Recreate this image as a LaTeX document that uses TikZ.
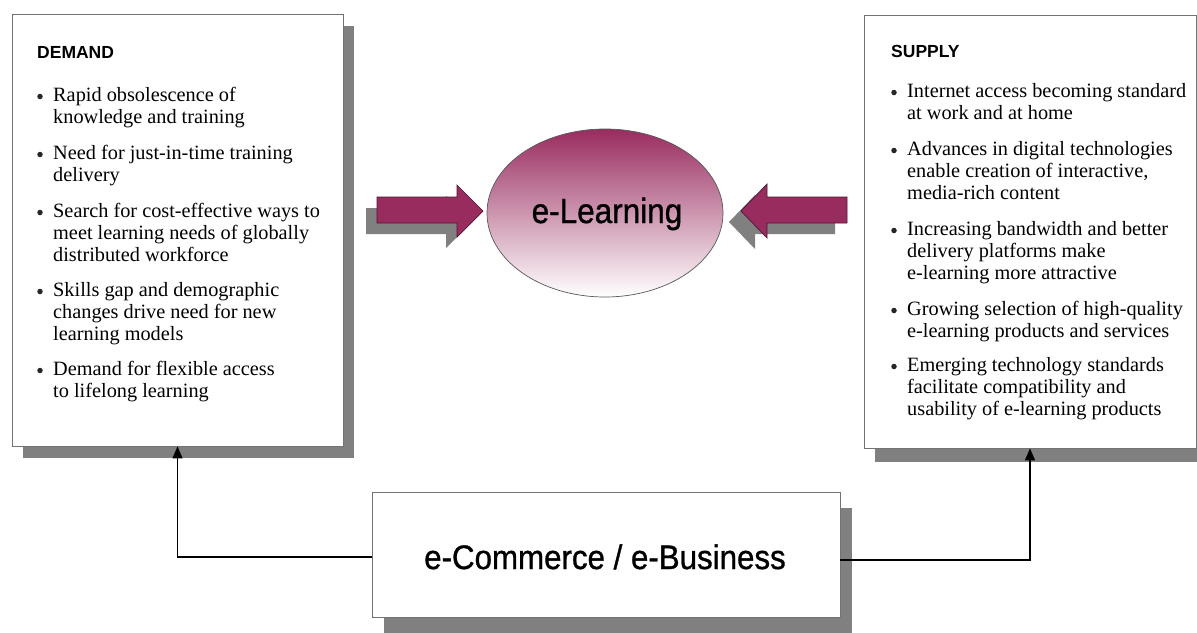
\documentclass[tikz,border=0pt]{standalone}
\usepackage{fontspec}
\setmainfont{Liberation Serif}
\newfontfamily\sansf{Liberation Sans}
\newfontfamily\sansmed[FakeBold=1.0]{Liberation Sans}
\usetikzlibrary{shapes.geometric,arrows.meta,backgrounds}
\definecolor{maroon}{RGB}{153,44,95}
\definecolor{maroondk}{RGB}{80,20,50}
\definecolor{shadegray}{RGB}{128,128,128}
\newcommand{\lines}[1]{\begin{tabular}[t]{@{}l@{}}#1\end{tabular}}
\begin{document}
\begin{tikzpicture}[x=1pt,y=-1pt,
  box/.style={draw=black!55, line width=0.8pt, fill=white, inner sep=0pt},
  itemtext/.style={anchor=base west, inner sep=0pt, font=\fontsize{20.3}{22}\selectfont},
  bul/.style={circle, fill=black!85, inner sep=0pt, minimum size=5.5pt},
  head/.style={anchor=base west, inner sep=0pt, font=\sansf\bfseries\fontsize{17.5}{20}\selectfont},
  conn/.style={line width=1.2pt, -{Triangle[length=12pt,width=10pt]}},
  barrow/.style={fill=maroon, draw=maroondk, line width=0.7pt, line join=miter},
  barrowshadow/.style={fill=shadegray},
  bigsans/.style={inner sep=0pt, anchor=base, font=\sansmed\fontsize{34}{40}\selectfont}
]
\useasboundingbox (0,0) rectangle (1197,632);

% boxes
\node[box, minimum width=331, minimum height=432] (demand) at (177.5,230) {};
\node[box, minimum width=332, minimum height=433] (supply) at (1030,231.5) {};
\node[box, minimum width=468, minimum height=125] (ecom) at (606,554.5) {};

% shadows and background
\begin{scope}[on background layer]
  \fill[white] (0,0) rectangle (1197,632);
  \fill[shadegray] ([shift={(11,12)}]demand.south west) rectangle ([shift={(11,12)}]demand.north east);
  \fill[shadegray] ([shift={(11,14)}]supply.south west) rectangle ([shift={(11,14)}]supply.north east);
  \fill[shadegray] ([shift={(12,16)}]ecom.south west) rectangle ([shift={(12,16)}]ecom.north east);
\end{scope}

% ellipse
\node[ellipse, draw=black!65, line width=0.7pt, minimum width=236, minimum height=168,
      top color=maroon, bottom color=white, inner sep=0pt] (elearn) at (605,213) {};
\node[bigsans, font=\sansmed\fontsize{35}{40}\selectfont] (eltext) at (607,223) {\scalebox{0.9}[1]{e-Learning}};

% block arrows
\fill[barrowshadow] (366,208) -- (446,208) -- (446,196) -- (472,222) -- (446,248) -- (446,234) -- (366,234) -- cycle;
\draw[barrow] (377,197) -- (457,197) -- (457,185) -- (483,211) -- (457,237) -- (457,223) -- (377,223) -- cycle;
\fill[barrowshadow] (835,208) -- (755,208) -- (755,195) -- (729,222) -- (755,249) -- (755,234) -- (835,234) -- cycle;
\draw[barrow] (847,197) -- (767,197) -- (767,184) -- (741,211) -- (767,238) -- (767,223) -- (847,223) -- cycle;

% e-commerce text
\node[bigsans] (ectext) at (605,569) {\scalebox{0.92}[1]{e-Commerce / e-Business}};

% connectors
\draw[conn] (ecom.west |- 0,557) -| (demand.south);
\draw[conn] (ecom.east |- 0,560) -| (supply.south);

% demand text
\node[head] (dh) at (37,58) {DEMAND};
\node[bul] (db1) at (40,96.5) {};
\node[itemtext] (d1) at (53,101) {\lines{Rapid obsolescence of\\knowledge and training}};
\node[bul] (db2) at (40,154.5) {};
\node[itemtext] (d2) at (53,159) {\lines{Need for just-in-time training\\delivery}};
\node[bul] (db3) at (40,212.5) {};
\node[itemtext] (d3) at (53,217) {\lines{Search for cost-effective ways to\\meet learning needs of globally\\distributed workforce}};
\node[bul] (db4) at (40,291.5) {};
\node[itemtext] (d4) at (53,296) {\lines{Skills gap and demographic\\changes drive need for new\\learning models}};
\node[bul] (db5) at (40,370.5) {};
\node[itemtext] (d5) at (53,375) {\lines{Demand for flexible access\\to lifelong learning}};

% supply text
\node[head] (sh) at (891,57) {SUPPLY};
\node[bul] (sb1) at (894,92.5) {};
\node[itemtext] (s1) at (907,97) {\lines{Internet access becoming standard\\at work and at home}};
\node[bul] (sb2) at (894,150.5) {};
\node[itemtext] (s2) at (907,155) {\lines{Advances in digital technologies\\enable creation of interactive,\\media-rich content}};
\node[bul] (sb3) at (894,230.5) {};
\node[itemtext] (s3) at (907,235) {\lines{Increasing bandwidth and better\\delivery platforms make\\e-learning more attractive}};
\node[bul] (sb4) at (894,310.5) {};
\node[itemtext] (s4) at (907,315) {\lines{Growing selection of high-quality\\e-learning products and services}};
\node[bul] (sb5) at (894,366.5) {};
\node[itemtext] (s5) at (907,371) {\lines{Emerging technology standards\\facilitate compatibility and\\usability of e-learning products}};
\end{tikzpicture}
\end{document}
